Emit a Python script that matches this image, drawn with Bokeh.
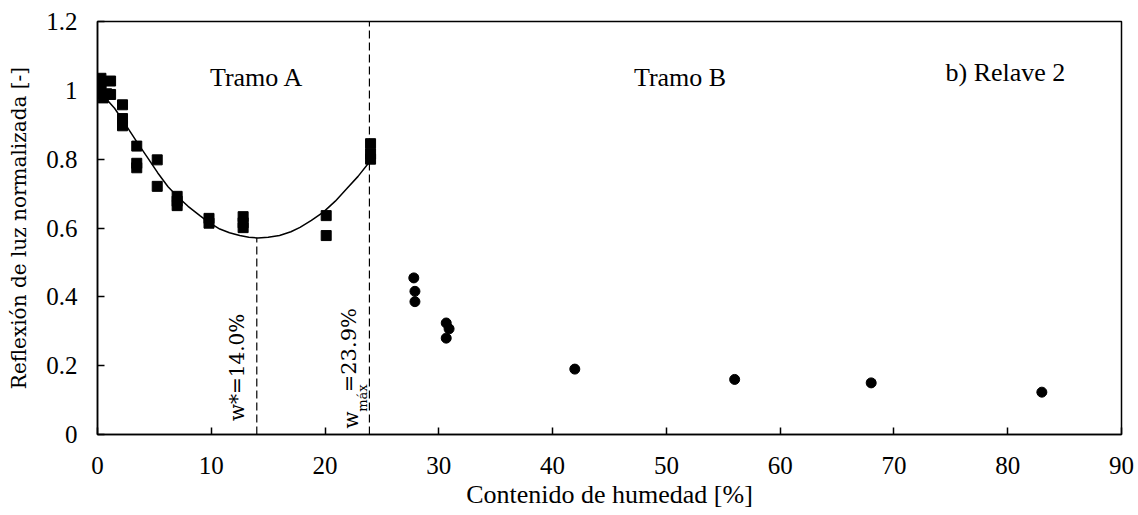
import math
from bokeh.plotting import figure
from bokeh.models import FixedTicker, CustomJSTickFormatter, Title
from bokeh.core.properties import value
from bokeh.embed import file_html
from bokeh.resources import INLINE

FONT = "Times New Roman"
ROT_FONT = "DejaVu Serif"

# Tramo A (squares)
tramo_a_x = [0.3, 0.3, 0.3, 0.3, 0.5, 0.8, 1.15, 1.15, 2.2, 2.2, 2.2,
             3.45, 3.45, 3.45, 5.25, 5.25, 7.0, 7.0, 7.0, 9.8, 9.8,
             12.8, 12.8, 12.8, 20.1, 20.1, 24.0, 24.0, 24.0]
tramo_a_y = [1.035, 1.02, 1.005, 0.99, 0.978, 0.99, 1.027, 0.988, 0.958, 0.918, 0.897,
             0.838, 0.788, 0.775, 0.798, 0.721, 0.692, 0.678, 0.665, 0.628, 0.614,
             0.633, 0.615, 0.601, 0.636, 0.578, 0.845, 0.815, 0.800]

# Tramo B (circles)
tramo_b_x = [27.8, 27.9, 27.9, 30.65, 30.9, 30.65, 41.95, 56.0, 68.0, 83.0]
tramo_b_y = [0.455, 0.416, 0.386, 0.324, 0.307, 0.280, 0.190, 0.160, 0.150, 0.123]

# fitted curve
fit_x = [0.5, 1.5, 2.67, 3.5, 4.43, 5.3, 6.2, 7.0, 7.96, 9.0, 9.72, 10.75, 11.6,
         12.5, 13.3, 14.1, 15.0, 16.0, 17.0, 17.8, 18.8, 19.85, 20.9, 21.9, 22.9, 23.9]
fit_y = [0.985, 0.948, 0.890, 0.848, 0.803, 0.760, 0.720, 0.692, 0.663, 0.636, 0.618,
         0.597, 0.586, 0.578, 0.573, 0.571, 0.573, 0.578, 0.589, 0.602, 0.622, 0.646,
         0.678, 0.714, 0.750, 0.792]

w_star = 14.0
w_max = 23.9

x_ticks = [0, 10, 20, 30, 40, 50, 60, 70, 80, 90]
y_ticks = [0, 0.2, 0.4, 0.6, 0.8, 1.0, 1.2]

x_title = "Contenido de humedad [%]"
y_title = "Reflexión de luz normalizada [-]"

p = figure(width=1138, height=515, x_range=(0, 90), y_range=(0, 1.2),
           output_backend="svg", toolbar_location=None,
           min_border_left=97, min_border_right=17, min_border_top=21,
           min_border_bottom=81)

p.xgrid.visible = False
p.ygrid.visible = False
p.outline_line_color = "black"
p.outline_line_width = 1.5
p.background_fill_color = "white"
p.border_fill_color = "white"

for ax in (p.xaxis[0], p.yaxis[0]):
    ax.axis_line_color = "black"
    ax.axis_line_width = 1.5
    ax.major_tick_in = 7
    ax.major_tick_out = 0
    ax.major_tick_line_width = 1.5
    ax.minor_tick_line_color = None
    ax.major_label_text_font = FONT
    ax.major_label_text_font_size = "25px"
    ax.major_label_text_color = "black"
    ax.axis_label_text_font = ROT_FONT
    ax.axis_label_text_font_size = "20px"
    ax.axis_label_text_font_style = "normal"
    ax.axis_label_text_color = "black"

p.xaxis.ticker = FixedTicker(ticks=x_ticks)
p.yaxis.ticker = FixedTicker(ticks=y_ticks)
p.yaxis.formatter = CustomJSTickFormatter(code="return tick.toFixed(1).replace(/\\.0$/, '');")
p.yaxis.major_label_standoff = 20
p.xaxis.major_label_standoff = 22
p.yaxis.axis_label = y_title
p.yaxis.axis_label_standoff = 12

# x-axis title
p.add_layout(Title(text=x_title, align="center", text_font=FONT, text_font_size="26px",
                   text_font_style="normal", text_color="black", standoff=3, offset=0), "below")

# dashed verticals
p.segment(x0=[w_star], y0=[0], x1=[w_star], y1=[min(fit_y)], line_color="black",
          line_width=1.2, line_dash="8 4")
p.segment(x0=[w_max], y0=[0], x1=[w_max], y1=[1.2], line_color="black",
          line_width=1.2, line_dash="8 4")

# fit curve
p.line(fit_x, fit_y, line_color="black", line_width=1.5)

# markers
p.scatter(tramo_a_x, tramo_a_y, marker="square", size=10, fill_color="black", line_color="black")
p.scatter(tramo_b_x, tramo_b_y, marker="circle", size=10, fill_color="black", line_color="black")

# horizontal annotations
p.text(x=[14.0], y=[1.037], text=["Tramo A"], text_font=value(FONT), text_font_size=value("26px"),
       text_align="center", text_baseline="alphabetic", text_color="black")
p.text(x=[51.2], y=[1.037], text=["Tramo B"], text_font=value(FONT), text_font_size=value("26px"),
       text_align="center", text_baseline="alphabetic", text_color="black")
p.text(x=[79.8], y=[1.052], text=["b) Relave 2"], text_font=value(FONT), text_font_size=value("26px"),
       text_align="center", text_baseline="alphabetic", text_color="black")

# rotated texts (centre-anchored)
ang = math.pi / 2
rotated = [
    ("w*=14.0%", 12.30, 0.195, "20px"),
    ("w", 22.32, 0.042, "20px"),
    ("máx", 23.29, 0.106, "13px"),
    ("=23.9%", 22.14, 0.245, "21px"),
]
for t, x, y, s in rotated:
    p.text(x=[x], y=[y], text=[t], angle=ang, text_font=value(ROT_FONT),
           text_font_size=value(s), text_align="center", text_baseline="middle",
           text_color="black")

open("out.html", "w").write(file_html(p, INLINE))
